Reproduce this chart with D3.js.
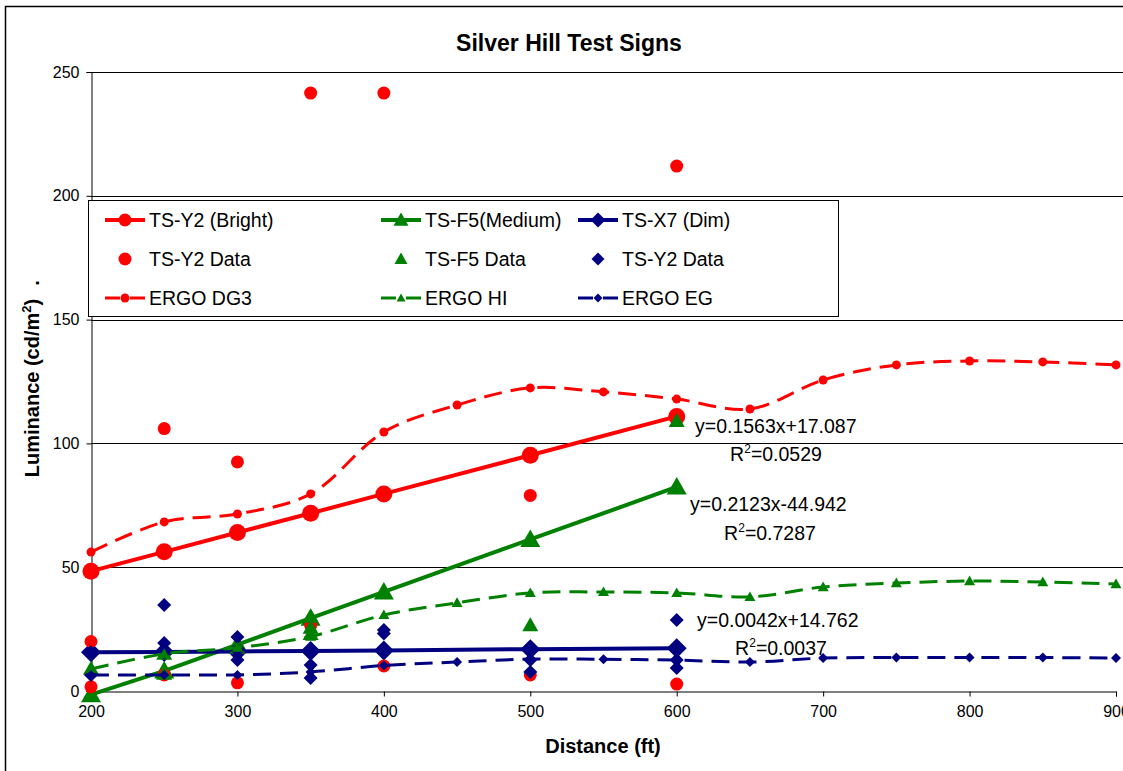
<!DOCTYPE html>
<meta charset="utf-8">
<style>
body { margin: 0; background: #fff; }
text { font-family: Arial, "Liberation Sans", sans-serif; fill: #000; }
.title { font-size: 23px; font-weight: bold; }
.axis-title { font-size: 20px; font-weight: bold; }
.tick text { font-size: 16px; }
.legend text { font-size: 19.5px; }
.fit-label { font-size: 19.5px; }
</style>
<body>
<script src="https://cdn.jsdelivr.net/npm/d3@7"></script>
<script>

// fitted lines (solid, big markers)
var fitX = [200, 250, 300, 350, 400, 500, 600];
var brightFit = [48.4, 56.2, 64.0, 71.8, 79.6, 95.2, 110.9];
var mediumFit = [-1.5, 8.1, 18.7, 29.4, 40.0, 61.2, 82.4];
var dimFit = [15.6, 15.8, 16.0, 16.2, 16.4, 16.9, 17.3];

// measured points [distance, luminance]
var brightData = [[200, 20], [200, 1.7], [250, 106], [250, 6.5], [300, 92.5], [300, 3.3],
  [350, 241.5], [350, 26.6], [400, 241.5], [400, 10.1], [500, 79], [500, 6.5], [600, 212], [600, 2.8]];
var mediumData = [[200, 9], [250, 15], [250, 7], [300, 17.5], [350, 30], [350, 25.5], [350, 23],
  [500, 26.6], [600, 109]];
var dimData = [[200, 15.7], [200, 6.5], [250, 34.7], [250, 19.4], [250, 15.5], [300, 21.8], [300, 12.5],
  [300, 16.5], [350, 16], [350, 10.5], [350, 5.2], [400, 24.6], [400, 23.2], [400, 16.5], [500, 17.3],
  [500, 12.5], [500, 7.7], [600, 28.7], [600, 17.5], [600, 12.5], [600, 9.3]];

// ERGO curves (dashed, smoothed)
var ergoX = [200, 250, 300, 350, 400, 450, 500, 550, 600, 650, 700, 750, 800, 850, 900];
var ergoDG3 = [56.1, 68.3, 71.5, 79.6, 104.6, 115.5, 122.4, 120.8, 117.9, 113.9, 125.6, 131.7, 133.3, 132.9, 131.7];
var ergoHI = [8.9, 15, 17.5, 22, 30.7, 35.6, 39.6, 40, 39.6, 38, 42, 43.6, 44.4, 44, 43.2];
var ergoEG = [6.5, 6.5, 6.5, 7.7, 10.3, 11.7, 12.9, 12.8, 12.5, 11.7, 13.3, 13.5, 13.5, 13.5, 13.3];

var xTicks = [200, 300, 400, 500, 600, 700, 800, 900];
var yTicks = [0, 50, 100, 150, 200, 250];

var fitLabels = [
  { eq: "y=0.1563x+17.087", r2: "0.0529", ex: 695, ey: 433, rx: 776, ry: 461 },
  { eq: "y=0.2123x-44.942", r2: "0.7287", ex: 690, ey: 511, rx: 770, ry: 540 },
  { eq: "y=0.0042x+14.762", r2: "0.0037", ex: 697, ey: 627, rx: 781, ry: 655 }
];

var RED = "#ff0000", GREEN = "#008000", NAVY = "#000080";

var width = 1123, height = 771;
var plotL = 91, plotR = 1116, plotT = 72, plotB = 691;

var svg = d3.select("body").append("svg")
    .attr("width", width)
    .attr("height", height);

// chart frame
svg.append("rect")
    .attr("x", 5.5).attr("y", 6.5)
    .attr("width", 1130).attr("height", 770)
    .attr("fill", "#fff").attr("stroke", "#000").attr("stroke-width", 1.5);

var x = d3.scaleLinear().domain([200, 900]).range([plotL, plotR]);
var y = d3.scaleLinear().domain([0, 250]).range([plotB, plotT]);

// gridlines
svg.append("g")
  .selectAll("line")
  .data(yTicks.slice(1))
  .enter().append("line")
    .attr("x1", plotL).attr("x2", 1123)
    .attr("y1", function(d) { return Math.round(y(d)) + 0.5; })
    .attr("y2", function(d) { return Math.round(y(d)) + 0.5; })
    .attr("stroke", "#000").attr("stroke-width", 1);

// axes
var yAxis = svg.append("g")
    .attr("transform", "translate(" + (plotL + 0.5) + ",0)")
    .call(d3.axisLeft(y).tickValues(yTicks).tickSize(5).tickPadding(7));
var xAxis = svg.append("g")
    .attr("transform", "translate(0," + (plotB + 0.5) + ")")
    .call(d3.axisBottom(x).tickValues(xTicks).tickSize(5).tickPadding(9));
[xAxis, yAxis].forEach(function(a) {
  a.select(".domain").attr("stroke", "#000");
  a.selectAll(".tick line").attr("stroke", "#000");
  a.selectAll(".tick text").attr("fill", "#000").style("font-family", "Arial, 'Liberation Sans', sans-serif");
});

// square diamond like Excel's
function diamond(r) {
  return "M0," + (-r) + "L" + r + ",0L0," + r + "L" + (-r) + ",0Z";
}
function marker(shape, size) {
  if (shape === "circle") return d3.symbol().type(d3.symbolCircle).size(Math.PI * size * size)();
  if (shape === "triangle") return "M0," + (-size) + "L" + size + "," + (size * 0.75) + "L" + (-size) + "," + (size * 0.75) + "Z";
  return diamond(size);
}

var plot = svg.append("g");

function drawLine(xs, ys, color, w, dash, curve) {
  var pts = xs.map(function(d, i) { return [d, ys[i]]; });
  plot.append("path")
      .datum(pts)
      .attr("fill", "none")
      .attr("stroke", color)
      .attr("stroke-width", w)
      .attr("stroke-dasharray", dash)
      .attr("d", d3.line()
        .x(function(d) { return x(d[0]); })
        .y(function(d) { return y(d[1]); })
        .curve(curve));
  return pts;
}

function drawMarkers(pts, color, shape, size) {
  plot.append("g")
    .selectAll("path")
    .data(pts)
    .enter().append("path")
      .attr("transform", function(d) { return "translate(" + x(d[0]) + "," + y(d[1]) + ")"; })
      .attr("d", marker(shape, size))
      .attr("fill", color);
}

// fitted series
var series = [
  [brightFit, RED, "circle", 8.5],
  [mediumFit, GREEN, "triangle", 10],
  [dimFit, NAVY, "diamond", 10]
];
series.forEach(function(s) {
  var pts = drawLine(fitX, s[0], s[1], 4, null, d3.curveLinear);
  drawMarkers(pts, s[1], s[2], s[3]);
});

// data points
drawMarkers(brightData, RED, "circle", 6.5);
drawMarkers(mediumData, GREEN, "triangle", 8);
drawMarkers(dimData, NAVY, "diamond", 7);

// ERGO curves
[[ergoDG3, RED, "circle", 4.5], [ergoHI, GREEN, "triangle", 5.5], [ergoEG, NAVY, "diamond", 5]].forEach(function(s) {
  var pts = drawLine(ergoX, s[0], s[1], 3, "18,9", d3.curveCatmullRom.alpha(0.5));
  drawMarkers(pts, s[1], s[2], s[3]);
});

// trendline labels
fitLabels.forEach(function(f) {
  svg.append("text").attr("class", "fit-label")
      .attr("x", f.ex).attr("y", f.ey).text(f.eq);
  var t = svg.append("text").attr("class", "fit-label")
      .attr("x", f.rx).attr("y", f.ry).attr("text-anchor", "middle");
  t.append("tspan").text("R");
  t.append("tspan").attr("dy", -8).style("font-size", "12px").text("2");
  t.append("tspan").attr("dy", 8).text("=" + f.r2);
});

// legend
var legend = svg.append("g").attr("class", "legend");
legend.append("rect")
    .attr("x", 88.5).attr("y", 200.5)
    .attr("width", 750).attr("height", 116)
    .attr("fill", "#fff").attr("stroke", "#000").attr("stroke-width", 1);

var legendItems = [
  ["TS-Y2 (Bright)", RED, "circle", "line"],
  ["TS-F5(Medium)", GREEN, "triangle", "line"],
  ["TS-X7 (Dim)", NAVY, "diamond", "line"],
  ["TS-Y2 Data", RED, "circle", "none"],
  ["TS-F5 Data", GREEN, "triangle", "none"],
  ["TS-Y2 Data", NAVY, "diamond", "none"],
  ["ERGO DG3", RED, "circle", "dash"],
  ["ERGO HI", GREEN, "triangle", "dash"],
  ["ERGO EG", NAVY, "diamond", "dash"]
];
var colX = [105, 381, 578];
var rowY = [220, 259, 298];
legendItems.forEach(function(d, i) {
  var lx = colX[i % 3], ly = rowY[Math.floor(i / 3)];
  var g = legend.append("g").attr("transform", "translate(" + lx + "," + ly + ")");
  if (d[3] === "line") {
    g.append("line").attr("x1", 0).attr("x2", 40).attr("stroke", d[1]).attr("stroke-width", 4);
    g.append("path").attr("transform", "translate(20,0)").attr("d", marker(d[2], d[2] === "circle" ? 6.5 : 7.5)).attr("fill", d[1]);
  } else if (d[3] === "dash") {
    g.append("line").attr("x1", 0).attr("x2", 40).attr("stroke", d[1]).attr("stroke-width", 3)
      .attr("stroke-dasharray", "15,10");
    g.append("path").attr("transform", "translate(20,0)").attr("d", marker(d[2], 4.5)).attr("fill", d[1]);
  } else {
    g.append("path").attr("transform", "translate(20,0)").attr("d", marker(d[2], 6.5)).attr("fill", d[1]);
  }
  g.append("text").attr("x", 44).attr("y", 0).attr("dy", "0.35em").text(d[0]);
});

// titles
svg.append("text").attr("class", "title")
    .attr("x", 569).attr("y", 51).attr("text-anchor", "middle")
    .text("Silver Hill Test Signs");
svg.append("text").attr("class", "axis-title")
    .attr("x", 603).attr("y", 753).attr("text-anchor", "middle")
    .text("Distance (ft)");
var yt = svg.append("text").attr("class", "axis-title")
    .attr("transform", "translate(39,388) rotate(-90)")
    .attr("text-anchor", "middle");
yt.append("tspan").text("Luminance (cd/m");
yt.append("tspan").attr("dy", -8).style("font-size", "13px").text("2");
yt.append("tspan").attr("dy", 8).text(")");
svg.append("text").attr("class", "axis-title")
    .attr("transform", "translate(39,283) rotate(-90)")
    .attr("text-anchor", "middle").text(".");

</script>
</body>
